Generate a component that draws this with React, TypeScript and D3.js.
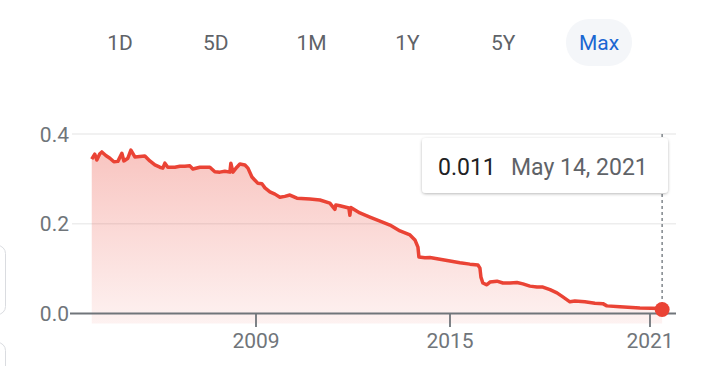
import React, { useEffect, useRef } from 'react';
import * as d3 from 'd3';

// rates
const dates = [
  '2003-12-04', '2004-01-07', '2004-01-30', '2004-03-04', '2004-03-27', '2004-05-11', '2004-06-26',
  '2004-08-10', '2004-09-24', '2004-11-08', '2004-12-01', '2005-01-15', '2005-02-18', '2005-04-04',
  '2005-05-30', '2005-07-26', '2005-09-20', '2005-11-16', '2006-01-11', '2006-02-14', '2006-03-09',
  '2006-04-11', '2006-06-30', '2006-08-25', '2006-10-20', '2006-12-16', '2007-01-19', '2007-04-08',
  '2007-07-30', '2007-09-24', '2007-11-20', '2008-01-15', '2008-03-12', '2008-03-23', '2008-04-15',
  '2008-05-30', '2008-07-03', '2008-08-29', '2008-10-02', '2008-11-16', '2008-12-20', '2009-01-23',
  '2009-03-09', '2009-04-12', '2009-06-07', '2009-08-03', '2009-09-28', '2009-11-23', '2010-01-19',
  '2010-04-08', '2010-09-02', '2010-12-24', '2011-04-15', '2011-06-11', '2011-06-22', '2011-08-06',
  '2011-11-16', '2011-11-27', '2011-12-08', '2012-03-19', '2012-07-10', '2012-11-01', '2013-02-22',
  '2013-06-15', '2013-10-06', '2013-12-01', '2014-01-04', '2014-01-15', '2014-03-24', '2014-05-19',
  '2014-09-09', '2015-01-01', '2015-04-20', '2015-08-07', '2015-11-03', '2015-11-25', '2015-12-06',
  '2015-12-27', '2016-02-09', '2016-03-14', '2016-05-30', '2016-08-03', '2016-10-19', '2017-01-04',
  '2017-03-10', '2017-05-26', '2017-08-11', '2017-10-15', '2018-01-01', '2018-03-18', '2018-05-22',
  '2018-08-07', '2018-10-01', '2019-01-18', '2019-05-08', '2019-08-03', '2019-09-16', '2020-02-06',
  '2020-09-12', '2021-05-14',
];
const rates = [
  0.344, 0.355, 0.342, 0.356, 0.360, 0.352, 0.346,
  0.338, 0.339, 0.357, 0.340, 0.346, 0.364, 0.349,
  0.350, 0.351, 0.340, 0.331, 0.326, 0.324, 0.335,
  0.326, 0.326, 0.328, 0.328, 0.329, 0.322, 0.326,
  0.326, 0.316, 0.315, 0.317, 0.315, 0.335, 0.315,
  0.326, 0.333, 0.331, 0.324, 0.304, 0.297, 0.290,
  0.289, 0.280, 0.271, 0.266, 0.259, 0.261, 0.264,
  0.257, 0.255, 0.253, 0.246, 0.232, 0.242, 0.240,
  0.235, 0.219, 0.236, 0.224, 0.215, 0.206, 0.197,
  0.184, 0.175, 0.164, 0.148, 0.126, 0.124, 0.125,
  0.121, 0.117, 0.113, 0.110, 0.108, 0.101, 0.081,
  0.068, 0.064, 0.070, 0.072, 0.068, 0.068, 0.069,
  0.066, 0.061, 0.059, 0.059, 0.053, 0.046, 0.037,
  0.026, 0.028, 0.026, 0.023, 0.022, 0.017, 0.015,
  0.012, 0.011,
];
const ranges = ['1D', '5D', '1M', '1Y', '5Y', 'Max'];
const selectedRange = 'Max';
const yTicks = [0, 0.2, 0.4];
const xTickYears = [2009, 2015, 2021];
const tipValue = '0.011';
const tipDate = 'May 14, 2021';

const W = 702;
const H = 366;
const RED = '#ea4335';
const GREY = '#70757a';
const FONT = 'Roboto, Arial, sans-serif';

const App = () => {
  const node = useRef<SVGSVGElement | null>(null);

  useEffect(() => {
    const svg = d3.select(node.current);
    svg.selectAll('*').remove();

    const parse = d3.timeParse('%Y-%m-%d');
    const data = dates.map((d, i) => ({ date: parse(d) as Date, value: rates[i] }));

    const x = d3.scaleTime()
      .domain(xTickYears.map(y => new Date(y, 0, 1)))
      .range([256, 450, 650]);
    const y = d3.scaleLinear().domain([0, 0.4]).range([313.5, 134]);

    const defs = svg.append('defs');
    const grad = defs.append('linearGradient')
      .attr('id', 'fillGrad')
      .attr('gradientUnits', 'userSpaceOnUse')
      .attr('x1', 0).attr('x2', 0).attr('y1', 150).attr('y2', 323);
    grad.append('stop').attr('offset', 0).attr('stop-color', RED).attr('stop-opacity', 0.31);
    grad.append('stop').attr('offset', 1).attr('stop-color', RED).attr('stop-opacity', 0.07);
    const shadow = defs.append('filter').attr('id', 'tipShadow')
      .attr('x', -0.1).attr('y', -0.2).attr('width', 1.2).attr('height', 1.5);
    shadow.append('feDropShadow')
      .attr('dx', 0).attr('dy', 1).attr('stdDeviation', 1.5)
      .attr('flood-color', '#000').attr('flood-opacity', 0.28);

    // range buttons
    const btns = svg.append('g').attr('font-family', FONT).attr('font-size', 21);
    const bx = d3.scalePoint().domain(ranges).range([120, 599]);
    btns.append('rect')
      .attr('x', (bx(selectedRange) as number) - 33).attr('y', 19)
      .attr('width', 66).attr('height', 47).attr('rx', 23)
      .attr('fill', '#f4f6f9');
    btns.selectAll('text')
      .data(ranges)
      .join('text')
        .attr('x', d => bx(d) as number)
        .attr('y', 50)
        .attr('text-anchor', 'middle')
        .attr('fill', d => (d === selectedRange ? '#1a67d2' : '#5f6368'))
        .text(d => d);

    // cut-off cards on the left edge
    svg.append('rect').attr('x', -20).attr('y', 245.5).attr('width', 25.5).attr('height', 69)
      .attr('rx', 8).attr('fill', '#fff').attr('stroke', '#dadce0');
    svg.append('rect').attr('x', -20).attr('y', 342.5).attr('width', 25.5).attr('height', 60)
      .attr('rx', 8).attr('fill', '#fff').attr('stroke', '#dadce0');

    // gridlines
    svg.append('g').selectAll('line')
      .data(yTicks.filter(t => t > 0))
      .join('line')
        .attr('x1', 72).attr('x2', 676)
        .attr('y1', d => y(d)).attr('y2', d => y(d))
        .attr('stroke', '#ededed').attr('stroke-width', 1.5);

    svg.append('g')
      .attr('font-family', FONT).attr('font-size', 21).attr('fill', GREY)
      .attr('text-anchor', 'end')
    .selectAll('text')
    .data(yTicks)
    .join('text')
      .attr('x', 69)
      .attr('y', d => y(d))
      .attr('dy', '0.36em')
      .text(d => d3.format('.1f')(d));

    // area + line
    const area = d3.area<{ date: Date; value: number }>()
      .x(d => x(d.date))
      .y0(y(0) + 10)
      .y1(d => y(d.value));
    svg.append('path').datum(data).attr('d', area).attr('fill', 'url(#fillGrad)');

    // baseline and ticks
    svg.append('line')
      .attr('x1', 70).attr('x2', 676).attr('y1', y(0)).attr('y2', y(0))
      .attr('stroke', GREY).attr('stroke-width', 1.8);
    svg.append('g').selectAll('line')
      .data(xTickYears)
      .join('line')
        .attr('x1', d => x(new Date(d, 0, 1))).attr('x2', d => x(new Date(d, 0, 1)))
        .attr('y1', y(0)).attr('y2', 327)
        .attr('stroke', GREY).attr('stroke-width', 1.8);
    svg.append('g')
      .attr('font-family', FONT).attr('font-size', 21).attr('fill', GREY)
      .attr('text-anchor', 'middle')
    .selectAll('text')
    .data(xTickYears)
    .join('text')
      .attr('x', d => x(new Date(d, 0, 1)))
      .attr('y', 348)
      .text(d => d);

    const line = d3.line<{ date: Date; value: number }>()
      .x(d => x(d.date))
      .y(d => y(d.value));
    svg.append('path').datum(data).attr('d', line)
      .attr('fill', 'none').attr('stroke', RED).attr('stroke-width', 3.5)
      .attr('stroke-linejoin', 'round');

    // hover marker
    const last = data[data.length - 1];
    const lx = x(last.date);
    svg.append('line')
      .attr('x1', lx).attr('x2', lx).attr('y1', 134).attr('y2', y(last.value))
      .attr('stroke', '#80868b').attr('stroke-width', 1.5).attr('stroke-dasharray', '3,3');
    svg.append('circle')
      .attr('cx', lx).attr('cy', y(last.value) + 1).attr('r', 7.5).attr('fill', RED);

    // tooltip
    const tip = svg.append('g');
    tip.append('rect')
      .attr('x', 422).attr('y', 138).attr('width', 246).attr('height', 55).attr('rx', 4)
      .attr('fill', '#fff').attr('filter', 'url(#tipShadow)');
    tip.append('text')
      .attr('x', 438).attr('y', 175)
      .attr('font-family', FONT).attr('font-size', 23).attr('fill', '#202124')
      .text(tipValue);
    tip.append('text')
      .attr('x', 511).attr('y', 175)
      .attr('font-family', FONT).attr('font-size', 23).attr('fill', '#5f6368')
      .text(tipDate);
  }, []);

  return (
    <svg
      ref={node}
      width={W}
      height={H}
      style={{ position: 'absolute', left: 0, top: 0, background: '#fff' }}
    />
  );
};

export default App;
